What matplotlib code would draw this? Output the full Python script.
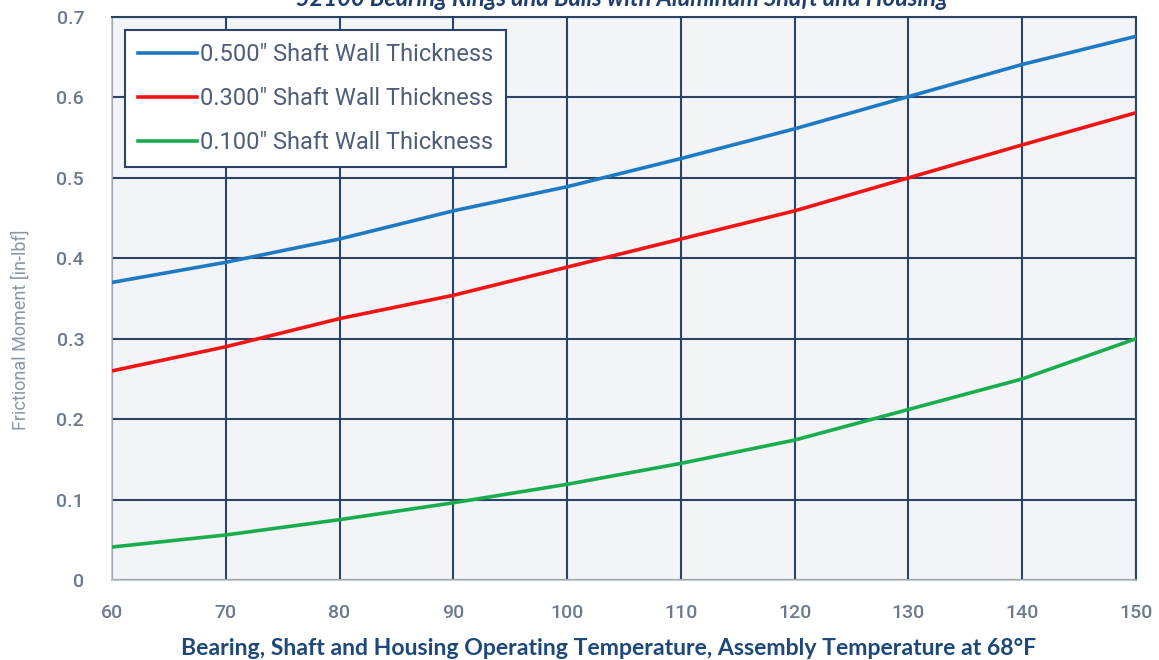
import numpy as np
import matplotlib.pyplot as plt

# temperatures (deg F) and frictional moment (in-lbf)
temps = [60, 70, 80, 90, 100, 110, 120, 130, 140, 150]
wall_500 = [0.370, 0.395, 0.424, 0.459, 0.489, 0.524, 0.561, 0.601, 0.641, 0.676]
wall_300 = [0.260, 0.290, 0.325, 0.354, 0.389, 0.424, 0.459, 0.500, 0.541, 0.581]
wall_100 = [0.041, 0.056, 0.075, 0.096, 0.119, 0.145, 0.174, 0.212, 0.250, 0.300]

labels = ['0.500" Shaft Wall Thickness',
          '0.300" Shaft Wall Thickness',
          '0.100" Shaft Wall Thickness']
colors = ['#1f7ac4', '#f01414', '#1aad4e']

x_ticks = list(range(60, 151, 10))
y_ticks = [0, 0.1, 0.2, 0.3, 0.4, 0.5, 0.6, 0.7]

title = '52100 Bearing Rings and Balls with Aluminum Shaft and Housing'
xlabel = 'Bearing, Shaft and Housing Operating Temperature, Assembly Temperature at 68°F'
ylabel = 'Frictional Moment [in-lbf]'

narrow = ['Roboto', 'DejaVu Sans']
grid_col = '#2b4466'

fig = plt.figure(figsize=(11.59, 6.6), dpi=100)
ax = fig.add_axes([112/1159, 80/660, 1024/1159, 563/660])
ax.set_facecolor('#f2f4f7')

for series, lab, col in zip([wall_500, wall_300, wall_100], labels, colors):
    ax.plot(temps, series, color=col, lw=2.6, label=lab, zorder=3)

ax.set_xlim(60, 150)
ax.set_ylim(0, 0.7)
ax.set_xticks(x_ticks)
ax.set_yticks(y_ticks)
ax.set_yticklabels(['0' if v == 0 else f'{v:.1f}' for v in y_ticks])
ax.grid(True, color=grid_col, lw=1.5, zorder=1)
ax.tick_params(length=0, labelsize=14, labelcolor='#6d7a8e')
ax.tick_params(axis='x', pad=17)
ax.tick_params(axis='y', pad=20)
for t in ax.get_xticklabels() + ax.get_yticklabels():
    t.set_family(narrow)
    t.set_fontweight('medium')
for s in ['left', 'bottom']:
    ax.spines[s].set_color('#b9bec6')
    ax.spines[s].set_linewidth(1.2)
for s in ['top', 'right']:
    ax.spines[s].set_color(grid_col)
    ax.spines[s].set_linewidth(1.5)

leg = ax.legend(loc='upper left', bbox_to_anchor=(13/1024, 1 - 13/563),
                borderaxespad=0, frameon=True, fancybox=False,
                handlelength=2.5, handletextpad=0.12, borderpad=0.55,
                labelspacing=0.9, prop={'family': narrow, 'size': 17})
leg.get_frame().set_edgecolor(grid_col)
leg.get_frame().set_linewidth(1.5)
leg.get_frame().set_alpha(1)
for t in leg.get_texts():
    t.set_color('#4e5d78')

fig.text(0.537, 1 - 6/660, title, ha='center', va='baseline', fontsize=17,
         fontweight='bold', style='italic', color='#1e3f6e', family='Lato')
fig.text(0.525, 5/660, xlabel, ha='center', va='baseline', fontsize=16.6,
         fontweight='bold', color='#1e4877', family='Lato')
fig.text(21/1159, 0.5, ylabel, ha='center', va='center', rotation=90,
         fontsize=13, color='#8a95a6', family=narrow)

fig.savefig('out.png', dpi=100, facecolor='white')
